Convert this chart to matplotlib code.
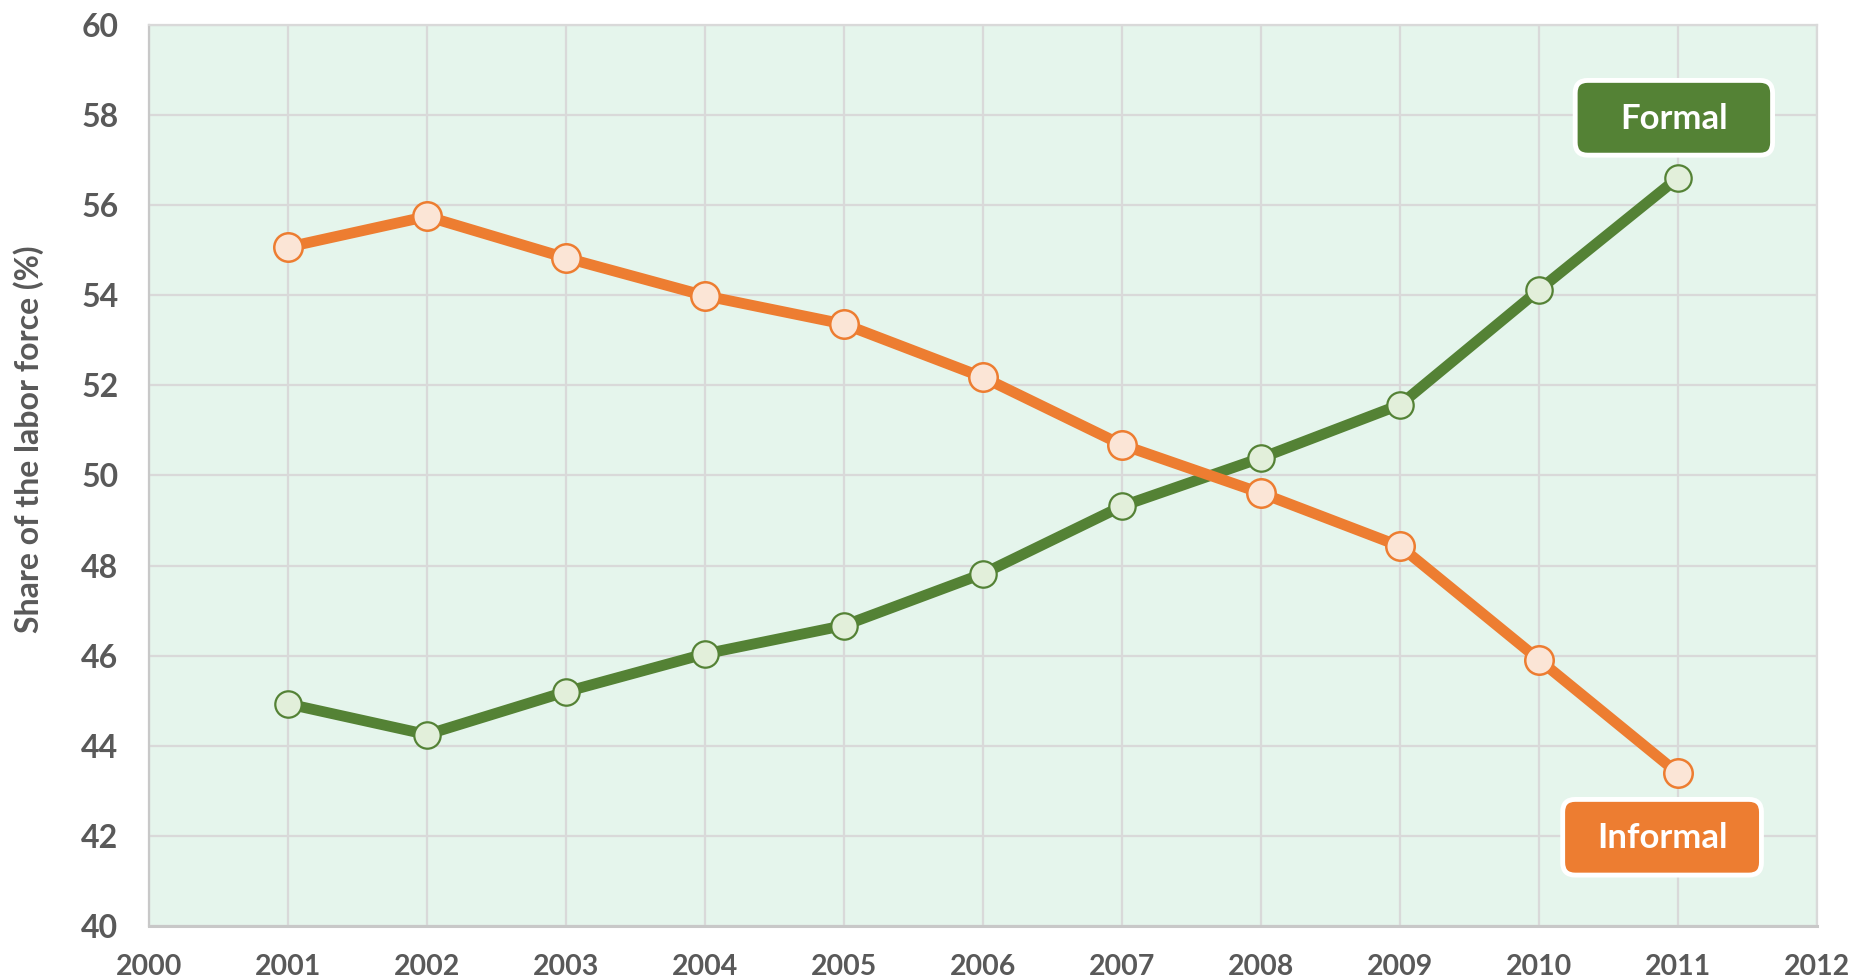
import matplotlib.pyplot as plt
from matplotlib.patches import FancyBboxPatch

plt.rcParams['font.family'] = ['Lato', 'DejaVu Sans']

years = [2001, 2002, 2003, 2004, 2005, 2006, 2007, 2008, 2009, 2010, 2011]
formal = [44.93, 44.25, 45.20, 46.04, 46.67, 47.82, 49.32, 50.39, 51.57, 54.12, 56.61]
informal = [55.07, 55.75, 54.83, 53.99, 53.36, 52.18, 50.68, 49.61, 48.43, 45.91, 43.39]

green = '#548235'
orange = '#ED7D31'
text_col = '#595959'
grid_col = '#D9D9D9'

fig = plt.figure(figsize=(18.53, 9.8), dpi=100)
ax = fig.add_axes([0.0804, 0.0551, 0.9002, 0.9194])
ax.set_facecolor('#E5F5EC')

ax.plot(years, formal, color=green, lw=7.8, marker='o', ms=19,
        mfc='#E2EFDA', mec=green, mew=1.6, zorder=3)
ax.plot(years, informal, color=orange, lw=7.8, marker='o', ms=20.5,
        mfc='#FBE5D6', mec=orange, mew=1.8, zorder=4)

ax.set_xlim(2000, 2012)
ax.set_ylim(40, 60)
ax.set_xticks(range(2000, 2013))
ax.set_yticks(range(40, 61, 2))
ax.grid(True, color=grid_col, lw=1.6, zorder=0)
ax.set_axisbelow(True)
for s in ax.spines.values():
    s.set_color(grid_col)
    s.set_linewidth(1.6)
ax.spines['left'].set_color('#C8C8C8')
ax.spines['bottom'].set_color('#C8C8C8')
ax.spines['bottom'].set_linewidth(2.2)

ax.tick_params(length=0, labelcolor=text_col)
ax.tick_params(axis='y', pad=22, labelsize=23)
ax.tick_params(axis='x', pad=20, labelsize=20.5)
for lab in ax.get_xticklabels() + ax.get_yticklabels():
    lab.set_fontweight('bold')

ax.set_ylabel('Share of the labor force (%)', fontsize=23, fontweight='bold',
              color=text_col)
ax.yaxis.set_label_coords(-0.063, 0.54)

# callout boxes: (x0, y0, x1, y1) in data units
boxes = [('Formal', green, 2010.26, 57.11, 2011.68, 58.77),
         ('Informal', orange, 2010.17, 41.13, 2011.60, 42.81)]
for name, col, x0, y0, x1, y1 in boxes:
    box = FancyBboxPatch((x0, y0), x1 - x0, y1 - y0,
                         boxstyle='round,pad=0,rounding_size=0.09',
                         mutation_aspect=3.1, fc=col, ec='white', lw=3.5,
                         zorder=6)
    ax.add_patch(box)
    ax.text((x0 + x1) / 2, (y0 + y1) / 2 - 0.02, name, fontsize=25,
            fontweight='bold', color='white', ha='center', va='center',
            zorder=7)

fig.savefig('out.png', dpi=100)
